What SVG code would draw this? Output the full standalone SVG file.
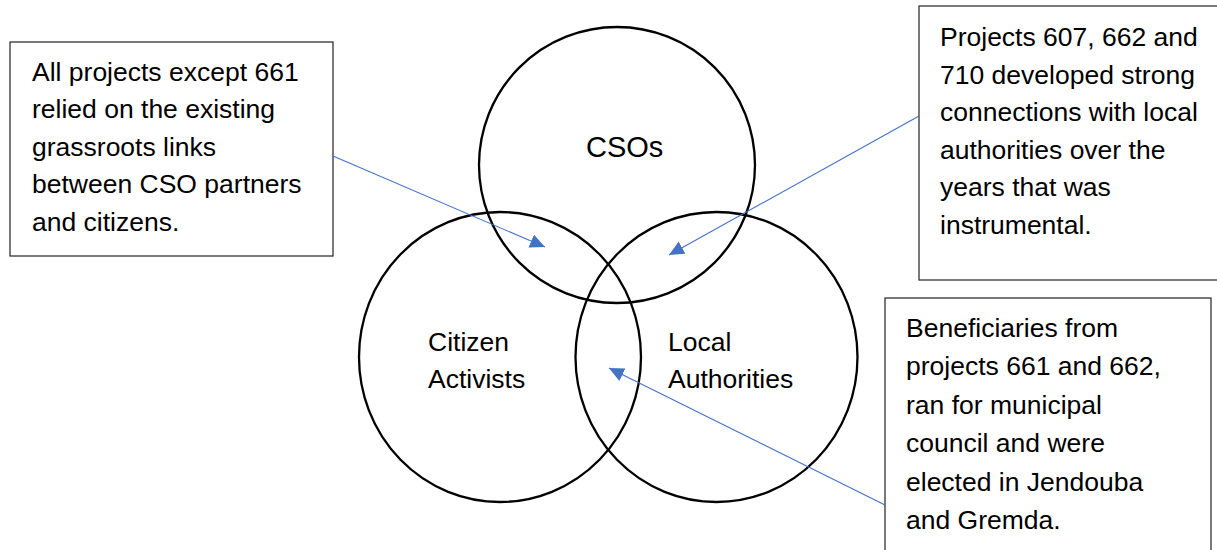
<svg xmlns="http://www.w3.org/2000/svg" width="1217" height="550" viewBox="0 0 1217 550">
<defs>
<style>
.bg{fill:#ffffff}
.venn{fill:none;stroke:#000000;stroke-width:2.3}
.box{fill:#ffffff;stroke:#333333;stroke-width:1.3}
.t{font-family:"Liberation Sans",Arial,sans-serif;font-size:26.5px;fill:#000000}
.big{font-size:29px}
.conn{stroke:#4472C4;stroke-width:1.1;fill:none;marker-end:url(#ah)}
</style>
<marker id="ah" markerUnits="userSpaceOnUse" markerWidth="16" markerHeight="15" refX="15" refY="7" orient="auto" viewBox="0 0 16 15">
<path d="M0,0 L15,7 L0,14 Z" fill="#4472C4"/>
</marker>
</defs>
<rect class="bg" x="0" y="0" width="1217" height="550"/>

<g id="venn-csos">
<ellipse class="venn" cx="617" cy="165" rx="138" ry="138"/>
<text class="t big" x="586" y="157">CSOs</text>
</g>
<g id="venn-citizen">
<ellipse class="venn" cx="500" cy="357" rx="141" ry="145"/>
<text class="t" x="428" y="351">Citizen</text>
<text class="t" x="428" y="388">Activists</text>
</g>
<g id="venn-local">
<ellipse class="venn" cx="716.5" cy="357" rx="141" ry="145"/>
<text class="t" x="668" y="351">Local</text>
<text class="t" x="668" y="388">Authorities</text>
</g>

<g id="note-grassroots">
<rect class="box" x="10" y="42" width="323" height="214"/>
<text class="t" x="32" y="81">All projects except 661</text>
<text class="t" x="32" y="118.4">relied on the existing</text>
<text class="t" x="32" y="155.8">grassroots links</text>
<text class="t" x="32" y="193.2">between CSO partners</text>
<text class="t" x="32" y="230.6">and citizens.</text>
</g>

<g id="note-authorities">
<rect class="box" x="919" y="6" width="305" height="274"/>
<text class="t" x="940" y="46">Projects 607, 662 and</text>
<text class="t" x="940" y="83.6">710 developed strong</text>
<text class="t" x="940" y="121.2">connections with local</text>
<text class="t" x="940" y="158.8">authorities over the</text>
<text class="t" x="940" y="196.4">years that was</text>
<text class="t" x="940" y="234">instrumental.</text>
</g>

<g id="note-beneficiaries">
<rect class="box" x="885" y="298" width="326" height="262"/>
<text class="t" x="906" y="337">Beneficiaries from</text>
<text class="t" x="906" y="375.4">projects 661 and 662,</text>
<text class="t" x="906" y="413.8">ran for municipal</text>
<text class="t" x="906" y="452.2">council and were</text>
<text class="t" x="906" y="490.6">elected in Jendouba</text>
<text class="t" x="906" y="529">and Gremda.</text>
</g>

<g id="connectors">
<line class="conn" x1="333" y1="156" x2="545" y2="247"/>
<line class="conn" x1="919" y1="116" x2="669" y2="255"/>
<line class="conn" x1="885" y1="505" x2="609" y2="368"/>
</g>
</svg>
